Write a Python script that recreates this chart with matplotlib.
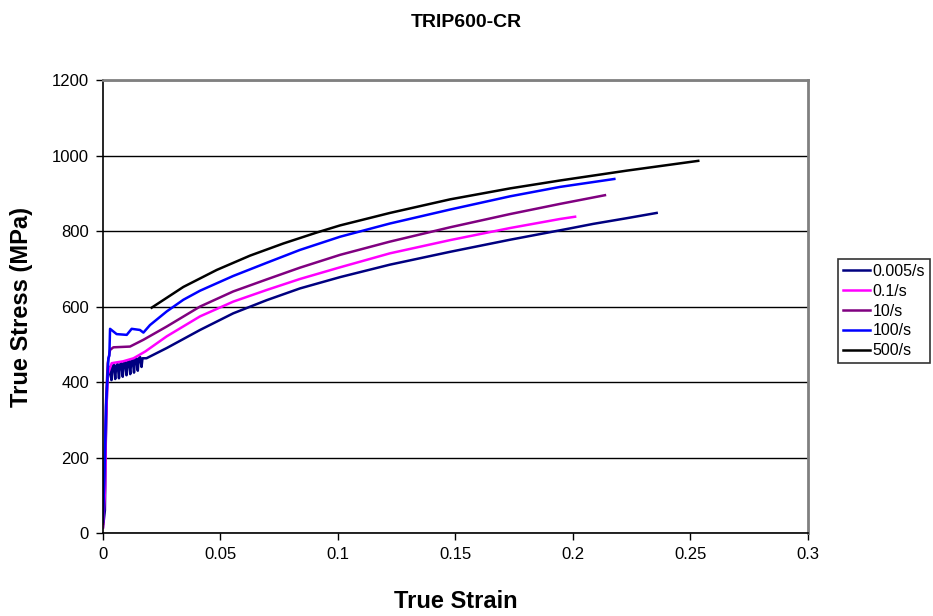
import numpy as np
import matplotlib.pyplot as plt

plt.rcParams['font.family'] = ['Liberation Sans', 'DejaVu Sans']

# strain / stress readings for each strain rate
eps_0005 = [0.0, 0.0008, 0.0012, 0.0018, 0.0024, 0.0030, 0.0036, 0.0040, 0.0046, 0.0052, 0.0056,
            0.0062, 0.0068, 0.0072, 0.0078, 0.0084, 0.0088, 0.0094, 0.0100, 0.0104, 0.0110,
            0.0116, 0.0120, 0.0126, 0.0132, 0.0136, 0.0142, 0.0148, 0.0152, 0.0158, 0.0164,
            0.0168, 0.0185, 0.0271, 0.0413, 0.0554, 0.0697, 0.0838, 0.1009, 0.1221, 0.1477,
            0.1732, 0.1987, 0.2086, 0.2228, 0.2356]
sig_0005 = [15, 60, 250, 400, 425, 440, 405, 440, 446, 408, 443, 448, 410, 446, 451, 414, 449,
            454, 418, 452, 457, 421, 455, 460, 425, 458, 463, 430, 462, 466, 440, 463, 463, 490,
            538, 582, 617, 648, 678, 711, 745, 777, 807, 819, 834, 848]

eps_01 = [0.0, 0.0009, 0.0013, 0.0020, 0.0037, 0.0086, 0.013, 0.018, 0.0271, 0.0413, 0.0554,
          0.0697, 0.0838, 0.1009, 0.1221, 0.1477, 0.1732, 0.1945, 0.2009]
sig_01 = [15, 120, 300, 420, 450, 455, 463, 481, 521, 574, 613, 644, 673, 704, 741, 776, 808,
          832, 838]

eps_10 = [0.0, 0.0008, 0.0013, 0.0020, 0.0030, 0.0044, 0.0115, 0.0172, 0.0271, 0.0413, 0.0554,
          0.0697, 0.0838, 0.1009, 0.1221, 0.1477, 0.1732, 0.1945, 0.2136]
sig_10 = [25, 200, 350, 450, 485, 492, 494, 512, 547, 600, 640, 672, 703, 737, 772, 810, 845,
          872, 895]

eps_100 = [0.0, 0.0006, 0.0013, 0.0023, 0.0027, 0.0030, 0.0058, 0.0101, 0.0122, 0.0157, 0.0172,
           0.020, 0.0271, 0.0342, 0.0413, 0.0554, 0.0697, 0.0838, 0.1009, 0.1221, 0.1477,
           0.1732, 0.1945, 0.2176]
sig_100 = [30, 150, 336, 463, 470, 541, 527, 525, 541, 538, 531, 551, 587, 618, 642, 681, 716,
           750, 785, 820, 857, 892, 917, 938]

eps_500 = [0.0207, 0.0342, 0.0484, 0.0626, 0.0767, 0.0909, 0.1009, 0.1221, 0.1477, 0.1732,
           0.1945, 0.2228, 0.2533]
sig_500 = [597, 652, 697, 735, 767, 796, 815, 848, 884, 913, 934, 960, 986]

series = [
    ('0.005/s', eps_0005, sig_0005, '#000080'),
    ('0.1/s', eps_01, sig_01, '#ff00ff'),
    ('10/s', eps_10, sig_10, '#800080'),
    ('100/s', eps_100, sig_100, '#0000ff'),
    ('500/s', eps_500, sig_500, '#000000'),
]

fig = plt.figure(figsize=(9.33, 6.16), dpi=100)
ax = fig.add_axes([0.1104, 0.1347, 0.7556, 0.7353])

for label, x, y, c in series:
    ax.plot(x, y, color=c, lw=1.8, label=label)

ax.set_xlim(0, 0.3)
ax.set_ylim(0, 1200)
ax.set_xticks(np.arange(0, 0.31, 0.05))
ax.set_xticklabels(['0', '0.05', '0.1', '0.15', '0.2', '0.25', '0.3'])
ax.set_yticks(np.arange(0, 1201, 200))
ax.yaxis.grid(True, color='black', lw=1)
ax.set_axisbelow(True)
ax.tick_params(labelsize=12, length=5, width=1, direction='out', pad=5)

for s in ['top', 'right']:
    ax.spines[s].set_color('#808080')
    ax.spines[s].set_linewidth(2)
for s in ['left', 'bottom']:
    ax.spines[s].set_linewidth(1.2)

ax.set_xlabel('True Strain', fontsize=17, fontweight='bold', labelpad=20)
ax.set_ylabel('True Stress (MPa)', fontsize=17, fontweight='bold', labelpad=14)
fig.suptitle('TRIP600-CR', fontsize=14, fontweight='bold', y=0.978)

leg = ax.legend(loc='center left', bbox_to_anchor=(1.043, 0.49), fontsize=11.5, frameon=True,
                fancybox=False, edgecolor='black', handlelength=1.7, handletextpad=0.15,
                borderpad=0.3, labelspacing=0.3, borderaxespad=0)
leg.get_frame().set_linewidth(1.2)

plt.savefig('out.png', dpi=100)
